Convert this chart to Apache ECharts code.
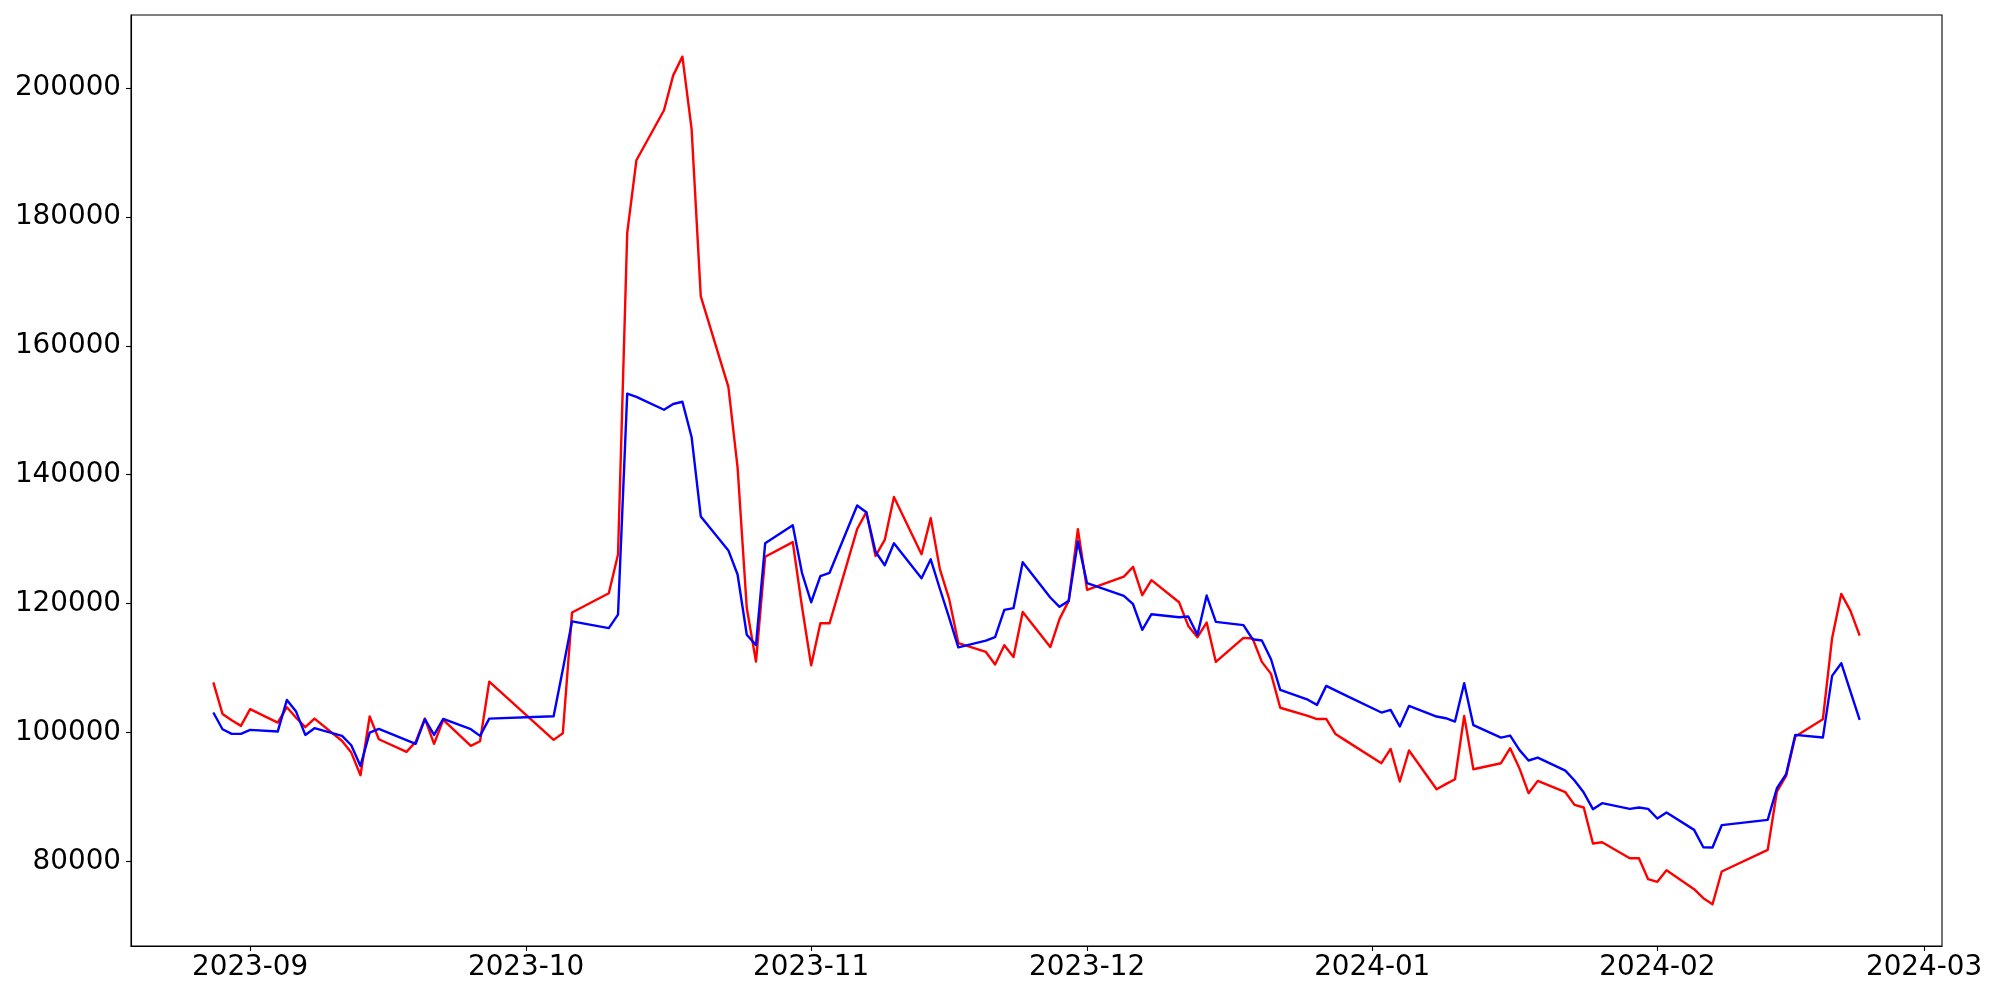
<!DOCTYPE html>
<html><head><meta charset="utf-8">
<script src="https://cdn.jsdelivr.net/npm/echarts@6/dist/echarts.min.js"></script>
<style>html,body{margin:0;padding:0;background:#fff}#c{width:2000px;height:1000px}</style>
</head><body><div id="c"></div>
<script>
const dates = [
'2023-08-28','2023-08-29','2023-08-30','2023-08-31','2023-09-01','2023-09-04','2023-09-05','2023-09-06','2023-09-07','2023-09-08',
'2023-09-11','2023-09-12','2023-09-13','2023-09-14','2023-09-15','2023-09-18','2023-09-19','2023-09-20','2023-09-21','2023-09-22',
'2023-09-25','2023-09-26','2023-09-27',
'2023-10-04','2023-10-05','2023-10-06',
'2023-10-10','2023-10-11','2023-10-12','2023-10-13',
'2023-10-16','2023-10-17','2023-10-18','2023-10-19','2023-10-20',
'2023-10-23','2023-10-24','2023-10-25','2023-10-26','2023-10-27',
'2023-10-30','2023-10-31','2023-11-01','2023-11-02','2023-11-03',
'2023-11-06','2023-11-07','2023-11-08','2023-11-09','2023-11-10',
'2023-11-13','2023-11-14','2023-11-15','2023-11-16','2023-11-17',
'2023-11-20','2023-11-21','2023-11-22','2023-11-23','2023-11-24',
'2023-11-27','2023-11-28','2023-11-29','2023-11-30','2023-12-01',
'2023-12-05','2023-12-06','2023-12-07','2023-12-08',
'2023-12-11','2023-12-12','2023-12-13','2023-12-14','2023-12-15',
'2023-12-18','2023-12-19','2023-12-20','2023-12-21','2023-12-22',
'2023-12-25','2023-12-26','2023-12-27','2023-12-28','2023-12-29',
'2024-01-02','2024-01-03','2024-01-04','2024-01-05',
'2024-01-08','2024-01-09','2024-01-10','2024-01-11','2024-01-12',
'2024-01-15','2024-01-16','2024-01-17','2024-01-18','2024-01-19',
'2024-01-22','2024-01-23','2024-01-24','2024-01-25','2024-01-26',
'2024-01-29','2024-01-30','2024-01-31','2024-02-01','2024-02-02',
'2024-02-05','2024-02-06','2024-02-07','2024-02-08',
'2024-02-13','2024-02-14','2024-02-15','2024-02-16',
'2024-02-19','2024-02-20','2024-02-21','2024-02-22','2024-02-23'
];
const redValues = [
107800,102900,101900,101040,103630,101550,103940,102300,100840,102170,
98700,96900,93390,102490,98970,97010,98560,102180,98250,101970,
97940,98660,107900,
98870,99900,118630,
121610,127630,177490,188770,
196530,201940,204840,193630,167660,
153610,141140,119330,111010,127280,
129550,119560,110420,116950,116950,
131570,134185,127400,129880,136535,
127660,133270,125310,120740,113880,
112510,110550,113560,111730,118710,
113270,117600,120430,131545,122140,
124200,125700,121310,123640,
120220,116550,114800,117070,110970,
114690,114590,110970,109110,103850,
102600,102100,102130,99800,98870,
95250,97470,92410,97220,
91220,92000,92770,102590,94320,
95250,97580,94480,90600,92510,
90750,88790,88380,82800,83000,
80520,80520,77260,76850,78660,
75710,74310,73380,78450,
81810,90860,93290,99390,
102080,114640,121520,118880,115050
];
const blueValues = [
103110,100520,99800,99800,100420,100160,105070,103260,99640,100680,
99490,98040,94830,100000,100570,98840,98250,102080,99640,102130,
100520,99490,102170,
102540,109800,117250,
116210,118290,152570,152070,
150070,150970,151310,145850,133520,
128260,124520,115170,113570,129360,
132160,124785,120215,124263,124785,
135230,134185,128050,125960,129356,
123936,126874,122270,117830,113230,
114275,114800,119040,119300,126420,
120950,119500,120430,129630,123170,
121200,119910,115930,118360,
117900,118000,115160,121260,117170,
116660,114480,114280,111380,106630,
105100,104300,107245,106540,105840,
103110,103520,100940,104140,
102490,102230,101710,107660,101150,
99230,99540,97320,95670,96130,
94110,92560,90700,88120,89050,
88170,88380,88170,86670,87600,
84910,82220,82170,85640,
86460,91370,93550,99650,
99230,108800,110760,106370,101970
];
const xTickLabels = ['2023-09','2023-10','2023-11','2023-12','2024-01','2024-02','2024-03'];
const yTickValues = [80000,100000,120000,140000,160000,180000,200000];

function toTime(s){ const p = s.split('-').map(Number); return new Date(p[0], p[1]-1, p[2] || 1).getTime(); }
const DAY = 86400000;
const xMin = toTime(dates[0]) - 8.95*DAY;
const xMax = toTime(dates[dates.length-1]) + 8.95*DAY;
const xTicks = xTickLabels.map(toTime);
const FONT = 'DejaVu Sans';
const FS = 27.8;

const chart = echarts.init(document.getElementById('c'), null, {renderer:'canvas'});
chart.setOption({
  animation: false,
  backgroundColor: '#ffffff',
  grid: {left:131, right:58, top:15, bottom:54, show:true, borderColor:'#000', borderWidth:1.1, backgroundColor:'transparent', containLabel:false, outerBoundsMode:'none'},
  xAxis: {
    type:'value', min:xMin, max:xMax, scale:true,
    axisLine:{show:true, onZero:false, lineStyle:{color:'#000', width:1.1}},
    axisTick:{show:true, length:5, lineStyle:{color:'#000', width:1.1}, customValues:xTicks},
    axisLabel:{show:true, customValues:xTicks, color:'#000', fontFamily:FONT, fontSize:FS, margin:8,
      formatter: function(v){ const d = new Date(v); return d.getFullYear() + '-' + String(d.getMonth()+1).padStart(2,'0'); }},
    splitLine:{show:false}, minorTick:{show:false}
  },
  yAxis: {
    type:'value', min:66900, max:211300,
    axisLine:{show:true, onZero:false, lineStyle:{color:'#000', width:1.1}},
    axisTick:{show:true, length:5, lineStyle:{color:'#000', width:1.1}, customValues:yTickValues},
    axisLabel:{show:true, customValues:yTickValues, color:'#000', fontFamily:FONT, fontSize:FS, margin:10,
      formatter: function(v){ return String(v); }},
    splitLine:{show:false}
  },
  series: [
    {type:'line', data: dates.map((d,i)=>[toTime(d), redValues[i]]), showSymbol:false, symbol:'none',
     lineStyle:{color:'#ff0000', width:2.4, join:'round'}, itemStyle:{color:'#ff0000'}, z:2},
    {type:'line', data: dates.map((d,i)=>[toTime(d), blueValues[i]]), showSymbol:false, symbol:'none',
     lineStyle:{color:'#0000ff', width:2.4, join:'round'}, itemStyle:{color:'#0000ff'}, z:3}
  ]
});
</script></body></html>
